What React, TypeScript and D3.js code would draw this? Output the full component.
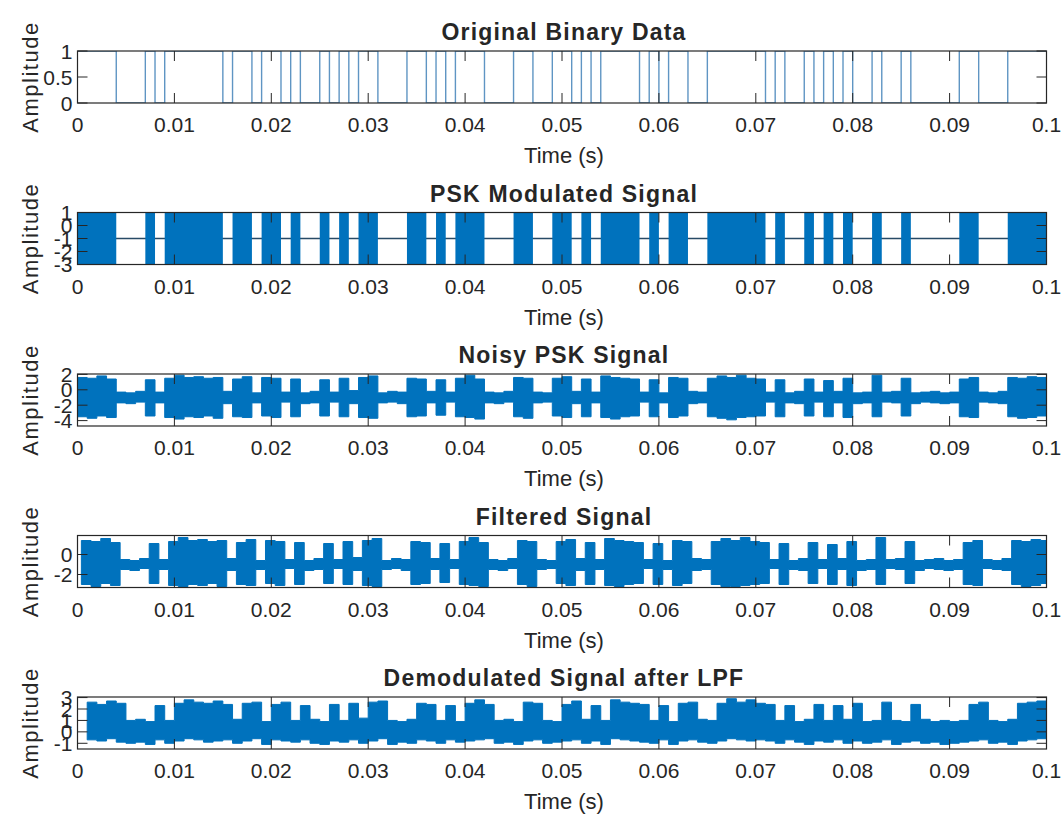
import React from 'react';
import * as d3 from 'd3';

// bit period of the source data (s) and the 100 bits, 10 per row
const bitPeriod = 0.001;
const bitRows = [
  '1111000101', '1111101101', '1010010101', '1000110101', '1100011001',
  '1010111101', '0110011111', '1010010101', '0010010000', '0110001111'
];
const bits = bitRows.join('').split('').map(Number);

const timeTicks = [0, 0.01, 0.02, 0.03, 0.04, 0.05, 0.06, 0.07, 0.08, 0.09, 0.1];
const timeTickLabels = ['0', '0.01', '0.02', '0.03', '0.04', '0.05', '0.06', '0.07', '0.08', '0.09', '0.1'];

const binaryTicks = [0, 0.5, 1];
const binaryTickLabels = ['0', '0.5', '1'];
const pskTicks = [-3, -2, -1, 0, 1];
const noisyTicks = [-4, -2, 0, 2];
const filteredTicks = [-2, 0];
const demodTicks = [-1, 0, 1, 2, 3];

// PSK levels: carrier swings between pskHigh/pskLow on 1-bits, sits at pskRest on 0-bits
const pskHigh = 1;
const pskLow = -3;
const pskRest = -1;

// envelope (top / bottom) of the noisy traces, one value per bit slot
const noisyHi = [
  1.6, 1.5, 1.8, 1.4, -0.3, -0.4, -0.2, 1.3, -0.3, 1.5,
  1.9, 1.6, 1.7, 1.5, 1.6, -0.2, 1.4, 1.7, -0.4, 1.6,
  1.5, -0.3, 1.4, -0.4, -0.2, 1.3, -0.3, 1.5, -0.1, 1.6,
  1.8, -0.4, -0.2, -0.3, 1.5, 1.4, -0.2, 1.3, -0.3, 1.5,
  1.9, 1.4, -0.3, -0.4, -0.2, 1.6, 1.5, -0.3, -0.4, 1.5,
  1.7, -0.2, 1.4, -0.3, 1.8, 1.6, 1.5, 1.4, -0.3, 1.3,
  -0.4, 1.6, 1.5, -0.2, -0.3, 1.5, 1.8, 1.6, 1.9, 1.5,
  1.4, -0.3, 1.3, -0.4, -0.2, 1.4, -0.3, 1.2, -0.2, 1.5,
  -0.4, -0.3, 1.9, -0.3, -0.2, 1.5, -0.4, -0.3, -0.2, -0.4,
  -0.3, 1.4, 1.6, -0.3, -0.4, -0.2, 1.6, 1.5, 1.7, 1.6
];
const noisyLo = [
  -3.5, -3.7, -3.4, -3.6, -1.7, -1.8, -1.6, -3.4, -1.7, -3.6,
  -3.8, -3.5, -3.6, -3.4, -3.7, -1.8, -3.5, -3.6, -1.7, -3.4,
  -3.6, -1.6, -3.5, -1.8, -1.7, -3.4, -1.6, -3.5, -1.8, -3.6,
  -3.7, -1.7, -1.6, -1.8, -3.5, -3.4, -1.7, -3.3, -1.6, -3.5,
  -3.6, -3.8, -1.7, -1.8, -1.6, -3.5, -3.7, -1.7, -1.6, -3.4,
  -3.6, -1.8, -3.5, -1.7, -3.6, -3.8, -3.5, -3.4, -1.6, -3.5,
  -1.7, -3.6, -3.4, -1.8, -1.7, -3.5, -3.7, -3.9, -3.6, -3.5,
  -3.4, -1.6, -3.5, -1.7, -1.8, -3.4, -1.6, -3.5, -1.7, -3.6,
  -1.8, -1.7, -3.5, -1.6, -1.7, -3.4, -1.8, -1.6, -1.7, -1.8,
  -1.7, -3.5, -3.6, -1.6, -1.7, -1.8, -3.5, -3.7, -3.6, -3.4
];
const filteredHi = [
  1.4, 1.3, 1.6, 1.2, -0.5, -0.6, -0.4, 1.1, -0.5, 1.3,
  1.7, 1.4, 1.5, 1.3, 1.4, -0.4, 1.2, 1.5, -0.6, 1.4,
  1.3, -0.5, 1.2, -0.6, -0.4, 1.1, -0.5, 1.3, -0.3, 1.4,
  1.6, -0.6, -0.4, -0.5, 1.3, 1.2, -0.4, 1.1, -0.5, 1.3,
  1.7, 1.2, -0.5, -0.6, -0.4, 1.4, 1.3, -0.5, -0.6, 1.3,
  1.5, -0.4, 1.2, -0.5, 1.6, 1.4, 1.3, 1.2, -0.5, 1.1,
  -0.6, 1.4, 1.3, -0.4, -0.5, 1.3, 1.6, 1.4, 1.7, 1.3,
  1.2, -0.5, 1.1, -0.6, -0.4, 1.2, -0.5, 1.0, -0.4, 1.3,
  -0.6, -0.5, 1.7, -0.5, -0.4, 1.3, -0.6, -0.5, -0.4, -0.6,
  -0.5, 1.2, 1.4, -0.5, -0.6, -0.4, 1.4, 1.3, 1.5, 1.4
];
const filteredLo = [
  -3.0, -3.2, -2.9, -3.1, -1.5, -1.6, -1.4, -2.9, -1.5, -3.1,
  -3.2, -3.0, -3.1, -2.9, -3.2, -1.6, -3.0, -3.1, -1.5, -2.9,
  -3.1, -1.4, -3.0, -1.6, -1.5, -2.9, -1.4, -3.0, -1.6, -3.1,
  -3.2, -1.5, -1.4, -1.6, -3.0, -2.9, -1.5, -2.8, -1.4, -3.0,
  -3.1, -3.2, -1.5, -1.6, -1.4, -3.0, -3.2, -1.5, -1.4, -2.9,
  -3.1, -1.6, -3.0, -1.5, -3.1, -3.2, -3.0, -2.9, -1.4, -3.0,
  -1.5, -3.1, -2.9, -1.6, -1.5, -3.0, -3.2, -3.2, -3.1, -3.0,
  -2.9, -1.4, -3.0, -1.5, -1.6, -2.9, -1.4, -3.0, -1.5, -3.1,
  -1.6, -1.5, -3.0, -1.4, -1.5, -2.9, -1.6, -1.4, -1.5, -1.6,
  -1.5, -3.0, -3.1, -1.4, -1.5, -1.6, -3.0, -3.2, -3.1, -2.9
];
const demodHi = [
  2.6, 2.4, 2.7, 2.5, 1.0, 1.1, 0.9, 2.3, 1.0, 2.5,
  2.8, 2.6, 2.5, 2.7, 2.4, 1.1, 2.5, 2.6, 0.9, 2.4,
  2.6, 1.0, 2.3, 1.1, 0.9, 2.4, 1.0, 2.5, 1.2, 2.6,
  2.7, 1.0, 0.9, 1.1, 2.5, 2.4, 1.0, 2.3, 0.9, 2.5,
  2.8, 2.4, 1.0, 1.1, 0.9, 2.6, 2.5, 1.0, 0.9, 2.4,
  2.7, 1.1, 2.3, 1.0, 2.8, 2.6, 2.5, 2.4, 1.0, 2.3,
  0.9, 2.5, 2.6, 1.1, 1.0, 2.5, 2.9, 2.6, 2.8, 2.5,
  2.4, 1.0, 2.3, 0.9, 1.1, 2.4, 1.0, 2.3, 1.1, 2.5,
  0.9, 1.0, 2.6, 1.0, 0.9, 2.4, 1.1, 0.9, 1.0, 0.9,
  1.0, 2.4, 2.6, 1.0, 0.9, 1.1, 2.5, 2.6, 2.7, 2.8
];
const demodLo = [
  -0.7, -0.8, -0.6, -0.9, -1.0, -0.9, -1.1, -0.7, -1.0, -0.8,
  -0.6, -0.7, -0.9, -0.8, -0.7, -1.0, -0.8, -0.6, -1.1, -0.7,
  -0.8, -0.9, -0.7, -1.0, -1.1, -0.8, -0.9, -0.7, -1.0, -0.8,
  -0.6, -1.1, -0.9, -1.0, -0.7, -0.8, -1.0, -0.7, -0.9, -0.8,
  -0.7, -0.6, -1.0, -0.9, -1.1, -0.8, -0.7, -1.0, -0.9, -0.8,
  -0.7, -1.0, -0.8, -1.1, -0.6, -0.7, -0.8, -0.9, -1.0, -0.7,
  -1.1, -0.8, -0.7, -0.9, -1.0, -0.8, -0.6, -0.7, -0.8, -0.7,
  -0.8, -1.0, -0.7, -0.9, -1.1, -0.8, -0.9, -0.7, -1.0, -0.8,
  -1.0, -0.9, -0.7, -1.1, -0.9, -0.8, -1.0, -0.9, -1.1, -1.0,
  -0.9, -0.8, -0.7, -1.0, -0.9, -1.1, -0.8, -0.7, -0.6, -0.7
];
// filter group delays seen in the lower panels (s)
const filterDelay = 0.0004;
const demodDelay = 0.001;

const W = 1063, H = 814;
const plotLeft = 77.5, plotRight = 1046.5;
const firstTop = 51, rowStep = 161.5, plotH = 52;
const tickLen = 10;
const ink = '#262626';
const matlabBlue = '#0072BD';
const font = '"Liberation Sans", Arial, Helvetica, sans-serif';

type Scale = d3.ScaleLinear<number, number>;

function Axes({ index, title, yDomain, yTicks, yTickLabels, draw }: {
  index: number; title: string; yDomain: [number, number]; yTicks: number[];
  yTickLabels?: string[]; draw: (x: Scale, y: Scale) => React.ReactNode;
}) {
  const top = firstTop + rowStep * index;
  const bottom = top + plotH;
  const x = d3.scaleLinear().domain([0, 0.1]).range([plotLeft, plotRight]);
  const y = d3.scaleLinear().domain(yDomain).range([bottom, top]);
  const clipId = `clip${index}`;
  const labels = yTickLabels || yTicks.map(String);
  return (
    <g>
      <clipPath id={clipId}>
        <rect x={plotLeft} y={top} width={plotRight - plotLeft} height={plotH} />
      </clipPath>
      <g clipPath={`url(#${clipId})`}>{draw(x, y)}</g>
      {timeTicks.map(t => (
        <g key={t} stroke={ink} strokeWidth={1}>
          <line x1={x(t)} x2={x(t)} y1={bottom} y2={bottom - tickLen} />
          <line x1={x(t)} x2={x(t)} y1={top} y2={top + tickLen} />
        </g>
      ))}
      {yTicks.map(v => (
        <g key={v} stroke={ink} strokeWidth={1}>
          <line x1={plotLeft} x2={plotLeft + tickLen} y1={y(v)} y2={y(v)} />
          <line x1={plotRight} x2={plotRight - tickLen} y1={y(v)} y2={y(v)} />
        </g>
      ))}
      <rect x={plotLeft} y={top} width={plotRight - plotLeft} height={plotH}
            fill="none" stroke={ink} strokeWidth={1.2} />
      <g fontFamily={font} fill={ink}>
        {timeTicks.map((t, i) => (
          <text key={t} x={x(t)} y={bottom + 29} fontSize={21} textAnchor="middle">{timeTickLabels[i]}</text>
        ))}
        {yTicks.map((v, i) => (
          <text key={v} x={plotLeft - 5} y={y(v)} dy="0.36em" fontSize={21} textAnchor="end">{labels[i]}</text>
        ))}
        <text x={(plotLeft + plotRight) / 2 + 2} y={top - 11} fontSize={23} fontWeight="bold"
              letterSpacing={1.2} textAnchor="middle">{title}</text>
        <text x={(plotLeft + plotRight) / 2 + 2} y={bottom + 60} fontSize={22} textAnchor="middle">Time (s)</text>
        <text transform={`translate(38,${(top + bottom) / 2}) rotate(-90)`} fontSize={22}
              letterSpacing={1.5} textAnchor="middle">Amplitude</text>
      </g>
    </g>
  );
}

// step band built from one hi/lo value per bit slot
function Band({ x, y, hi, lo, delay }: { x: Scale; y: Scale; hi: number[]; lo: number[]; delay: number }) {
  const pts = hi.map((h, i) => ({ t: i * bitPeriod + delay, h, l: lo[i] }));
  pts.push({ t: hi.length * bitPeriod + delay, h: hi[hi.length - 1], l: lo[lo.length - 1] });
  const area = d3.area<{ t: number; h: number; l: number }>()
    .x(d => x(d.t)).y0(d => y(d.l)).y1(d => y(d.h))
    .curve(d3.curveStepAfter);
  return <path d={area(pts) || ''} fill={matlabBlue} stroke={matlabBlue} strokeWidth={1} />;
}

export default function App() {
  const bitPts = bits.map((b, i) => [i * bitPeriod, b] as [number, number]);
  bitPts.push([bits.length * bitPeriod, bits[bits.length - 1]]);

  const runs: [number, number][] = [];
  bits.forEach((b, i) => {
    if (!b) return;
    const last = runs[runs.length - 1];
    if (last && last[1] === i) last[1] = i + 1;
    else runs.push([i, i + 1]);
  });

  return (
    <div style={{ position: 'absolute', left: 0, top: 0 }}>
      <svg width={W} height={H} style={{ display: 'block', background: '#fff' }}>
        <Axes index={0} title="Original Binary Data" yDomain={[0, 1]} yTicks={binaryTicks}
              yTickLabels={binaryTickLabels}
              draw={(x, y) => {
                const line = d3.line<[number, number]>().x(d => x(d[0])).y(d => y(d[1])).curve(d3.curveStepAfter);
                return <path d={line(bitPts) || ''} fill="none" stroke="#5f95c3" strokeWidth={1.4} />;
              }} />
        <Axes index={1} title="PSK Modulated Signal" yDomain={[pskLow, pskHigh]} yTicks={pskTicks}
              draw={(x, y) => (
                <g>
                  <line x1={x(0)} x2={x(0.1)} y1={y(pskRest)} y2={y(pskRest)} stroke="#284a66" strokeWidth={1.3} />
                  {runs.map(r => (
                    <rect key={r[0]} x={x(r[0] * bitPeriod)} width={x(r[1] * bitPeriod) - x(r[0] * bitPeriod)}
                          y={y(pskHigh)} height={y(pskLow) - y(pskHigh)} fill={matlabBlue} />
                  ))}
                </g>
              )} />
        <Axes index={2} title="Noisy PSK Signal" yDomain={[-4.7, 2.05]} yTicks={noisyTicks}
              draw={(x, y) => <Band x={x} y={y} hi={noisyHi} lo={noisyLo} delay={0} />} />
        <Axes index={3} title="Filtered Signal" yDomain={[-3.3, 1.9]} yTicks={filteredTicks}
              draw={(x, y) => <Band x={x} y={y} hi={filteredHi} lo={filteredLo} delay={filterDelay} />} />
        <Axes index={4} title="Demodulated Signal after LPF" yDomain={[-1.5, 3.05]} yTicks={demodTicks}
              draw={(x, y) => <Band x={x} y={y} hi={demodHi} lo={demodLo} delay={demodDelay} />} />
      </svg>
    </div>
  );
}
